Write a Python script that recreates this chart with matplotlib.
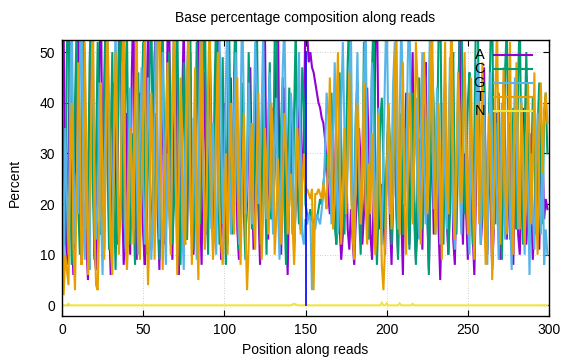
import matplotlib
matplotlib.use("Agg")
import matplotlib.pyplot as plt
from matplotlib.lines import Line2D

positions = list(range(0, 300))

A = [38, 55, 20, 8, 30, 52, 14, 6, 22, 45, 60, 18, 9, 33, 50, 12, 5, 28, 58, 35, 10, 7, 26, 48, 62,
     20, 11, 40, 55, 16, 6, 24, 44, 30, 12, 52, 58, 22, 8, 15, 38, 27, 10, 46, 60, 19, 9, 31, 42, 25,
     14, 8, 36, 55, 28, 11, 22, 49, 57, 18, 7, 30, 45, 12, 26, 53, 60, 21, 9, 34, 47, 15, 6, 23, 41,
     56, 29, 13, 38, 50, 17, 10, 27, 44, 58, 20, 8, 32, 46, 14, 24, 52, 35, 11, 19, 43, 57, 26, 9, 30,
     40, 22, 12, 33, 45, 18, 28, 38, 15, 9, 25, 42, 30, 14, 20, 36, 47, 24, 11, 29, 40, 19, 8, 26, 44,
     55, 21, 13, 34, 39, 16, 27, 48, 60, 23, 10, 31, 43, 18, 6, 24, 37, 29, 12, 20, 41, 33, 15, 26, 35,
     58, 54, 48, 50, 47, 46, 44, 42, 40, 39, 37, 36, 33, 28, 22, 18, 25, 34, 20, 12, 27, 16, 9, 14, 24,
     30, 15, 11, 19, 13, 8, 17, 22, 35, 28, 12, 18, 26, 43, 30, 14, 9, 21, 52, 60, 32, 15, 24, 18, 10,
     28, 36, 17, 8, 22, 45, 20, 10, 31, 18, 6, 26, 42, 24, 12, 35, 50, 21, 9, 16, 33, 27, 11, 40, 48,
     19, 7, 25, 30, 14, 23, 38, 15, 5, 20, 34, 44, 17, 10, 28, 36, 13, 8, 24, 41, 55, 22, 12, 30, 18,
     9, 27, 35, 14, 6, 22, 40, 31, 12, 18, 47, 25, 10, 33, 20, 7, 15, 29, 38, 16, 9, 24, 44, 30, 13,
     21, 36, 19, 8, 27, 32, 14, 10, 23, 39, 26, 12, 18, 34, 22, 9, 16, 28, 20, 11, 25, 31, 17, 21, 19]

C = [45, 30, 12, 50, 62, 25, 8, 18, 40, 55, 20, 10, 35, 58, 42, 15, 22, 48, 60, 24, 9, 30, 52, 38, 14,
     20, 45, 58, 28, 11, 33, 50, 22, 7, 26, 48, 61, 30, 16, 40, 55, 25, 12, 34, 20, 8, 29, 46, 18, 36,
     52, 24, 10, 30, 47, 60, 27, 14, 38, 22, 9, 42, 56, 31, 15, 25, 50, 36, 12, 20, 44, 58, 26, 8, 33,
     48, 19, 13, 40, 55, 23, 11, 29, 52, 37, 16, 24, 45, 60, 28, 10, 35, 21, 14, 43, 57, 30, 12, 26, 49,
     22, 8, 37, 54, 28, 14, 46, 60, 25, 11, 32, 44, 18, 9, 27, 50, 35, 15, 22, 39, 57, 30, 12, 20, 41,
     26, 10, 34, 48, 17, 23, 52, 62, 29, 13, 36, 45, 19, 8, 28, 43, 31, 14, 38, 55, 24, 16, 30, 47, 40,
     20, 18, 17, 19, 17, 16, 18, 17, 19, 21, 20, 24, 27, 30, 25, 35, 42, 28, 16, 12, 26, 46, 32, 20, 14,
     31, 48, 58, 27, 15, 22, 38, 44, 18, 10, 25, 52, 34, 21, 13, 29, 47, 57, 24, 8, 19, 36, 41, 28, 15,
     26, 40, 32, 12, 22, 46, 18, 9, 30, 38, 14, 20, 35, 28, 11, 24, 42, 17, 8, 27, 45, 33, 15, 21, 37,
     19, 6, 25, 48, 39, 14, 31, 54, 62, 28, 12, 36, 24, 10, 18, 43, 50, 22, 14, 30, 58, 60, 35, 18, 27,
     40, 46, 24, 12, 33, 58, 62, 30, 14, 20, 44, 26, 11, 37, 52, 60, 25, 16, 35, 42, 20, 9, 28, 47, 55,
     31, 13, 24, 39, 22, 15, 45, 58, 27, 12, 33, 50, 36, 18, 25, 41, 30, 14, 35, 44, 28, 16, 38, 42, 30]

G = [14, 8, 35, 22, 10, 40, 58, 30, 12, 26, 18, 45, 60, 22, 9, 31, 15, 7, 38, 52, 28, 13, 20, 44, 18,
     6, 27, 36, 58, 25, 11, 17, 34, 56, 29, 14, 22, 48, 37, 12, 8, 30, 43, 20, 15, 39, 27, 10, 33, 47,
     24, 12, 20, 45, 34, 9, 17, 38, 60, 27, 13, 35, 50, 22, 8, 30, 18, 12, 42, 57, 25, 10, 28, 40, 16,
     7, 32, 46, 55, 20, 14, 37, 25, 9, 29, 49, 61, 24, 12, 18, 42, 30, 15, 36, 22, 10, 27, 53, 40, 16,
     28, 45, 58, 30, 14, 22, 37, 50, 26, 12, 38, 60, 40, 18, 24, 44, 31, 16, 33, 52, 43, 20, 26, 39, 55,
     24, 17, 35, 46, 28, 14, 30, 41, 20, 9, 25, 47, 56, 33, 18, 27, 42, 36, 10, 22, 38, 50, 26, 14, 12,
     17, 16, 18, 17, 3, 16, 15, 18, 17, 16, 19, 22, 30, 42, 38, 25, 16, 33, 48, 30, 14, 23, 40, 52, 35,
     18, 27, 45, 54, 22, 12, 36, 50, 26, 16, 30, 44, 58, 28, 20, 35, 48, 33, 14, 26, 39, 22, 12, 30, 46,
     60, 34, 18, 27, 44, 52, 30, 15, 38, 56, 42, 20, 26, 48, 60, 32, 17, 29, 41, 22, 13, 35, 50, 27, 16,
     24, 45, 58, 36, 19, 28, 43, 31, 12, 22, 40, 26, 15, 32, 49, 38, 18, 11, 27, 44, 24, 14, 30, 47, 35,
     17, 10, 33, 22, 14, 38, 48, 25, 12, 29, 42, 19, 8, 31, 46, 27, 15, 36, 22, 9, 26, 40, 30, 13, 24,
     38, 18, 7, 28, 45, 32, 15, 20, 41, 27, 10, 34, 24, 6, 30, 19, 11, 26, 38, 22, 14, 33, 8, 15, 10]

T = [20, 2, 10, 7, 4, 28, 40, 12, 3, 22, 48, 35, 8, 14, 52, 30, 6, 20, 38, 62, 15, 4, 3, 18, 44,
     25, 9, 30, 55, 40, 12, 6, 26, 50, 33, 10, 18, 44, 60, 22, 7, 15, 35, 28, 12, 40, 58, 20, 9, 25,
     37, 55, 18, 4, 16, 42, 30, 9, 22, 51, 62, 26, 7, 19, 33, 48, 20, 10, 38, 56, 28, 6, 24, 45, 35,
     14, 12, 40, 60, 22, 8, 30, 47, 18, 5, 27, 54, 33, 11, 21, 44, 58, 24, 9, 16, 37, 50, 20, 12, 8,
     18, 30, 10, 26, 40, 22, 14, 34, 45, 20, 8, 25, 38, 15, 3, 12, 28, 36, 18, 11, 30, 42, 24, 9, 19,
     35, 27, 14, 22, 40, 33, 10, 17, 29, 20, 12, 24, 38, 30, 14, 20, 26, 16, 8, 22, 35, 28, 14, 24, 30,
     22, 23, 22, 21, 23, 3, 22, 22, 23, 22, 21, 24, 22, 19, 30, 45, 28, 15, 20, 38, 50, 26, 12, 22, 35,
     18, 32, 46, 24, 14, 9, 25, 40, 30, 16, 22, 44, 20, 12, 28, 18, 34, 20, 10, 16, 38, 25, 8, 3, 12,
     24, 40, 30, 15, 22, 46, 55, 28, 14, 33, 48, 20, 10, 25, 42, 35, 16, 30, 52, 44, 22, 12, 28, 50, 38,
     18, 26, 47, 56, 30, 14, 22, 40, 27, 9, 35, 52, 24, 18, 44, 58, 30, 13, 27, 46, 38, 20, 32, 50, 26,
     14, 30, 45, 22, 9, 28, 40, 16, 33, 48, 20, 8, 24, 38, 30, 5, 18, 42, 56, 26, 12, 30, 47, 24, 14,
     36, 52, 22, 10, 34, 48, 28, 15, 40, 30, 12, 24, 44, 33, 16, 28, 46, 20, 10, 35, 44, 26, 38, 42, 36]

# N is zero except for a few tiny bumps (position -> percent)
N_bumps = {4: 0.3, 142: 0.2, 143: 0.3, 144: 0.2, 197: 0.5, 200: 0.4, 208: 0.4, 216: 0.3}
N = [N_bumps.get(p, 0.0) for p in positions]

read_boundary = 150
boundary_top = 50

labels = ["A", "C", "G", "T", "N"]
colors = ["#9400D3", "#009E73", "#56B4E9", "#E69F00", "#F0E442"]

plt.rcParams['font.family'] = ['Liberation Sans', 'DejaVu Sans']
fs = 10

fig = plt.figure(figsize=(5.76, 3.6), dpi=100)
ax = fig.add_axes([62/576, 1-316/360, (549-62)/576, (316-40)/360])

for series, c in zip([A, C, G, T, N], colors):
    ax.plot(positions, series, color=c, lw=1.5, solid_joinstyle='miter')

ax.plot([read_boundary, read_boundary], [0, boundary_top], color='#0000FF', lw=1.2, zorder=5)

ax.set_xlim(0, 300)
ax.set_ylim(-2.1, 52.4)
ax.set_xticks([0, 50, 100, 150, 200, 250, 300])
ax.set_yticks([0, 10, 20, 30, 40, 50])
ax.tick_params(direction='in', length=4, width=0.8, top=True, right=True,
               labelsize=fs, pad=5, colors='black')
ax.grid(True, color='#c0c0c0', lw=0.6, ls=(0, (1, 2)))
ax.set_axisbelow(True)
for s in ax.spines.values():
    s.set_linewidth(1.0)
    s.set_zorder(10)

fig.text(305.5/576, 1-18/360, "Base percentage composition along reads",
         ha='center', va='center', fontsize=fs)
fig.text(305.5/576, 1-350/360, "Position along reads", ha='center', va='center', fontsize=fs)
fig.text(15/576, 1-183/360, "Percent", ha='center', va='center', rotation=90, fontsize=fs)

# key (gnuplot style)
row_y = [55, 69, 83, 97, 111]
for lab, c, yp in zip(labels, colors, row_y):
    fig.text(485/576, 1-yp/360, lab, ha='right', va='center', fontsize=fs + 0.5, zorder=20)
    fig.add_artist(Line2D([494/576, 532/576], [1-yp/360, 1-yp/360], color=c, lw=1.5,
                          transform=fig.transFigure, zorder=20))

fig.savefig("out.png", dpi=100)
